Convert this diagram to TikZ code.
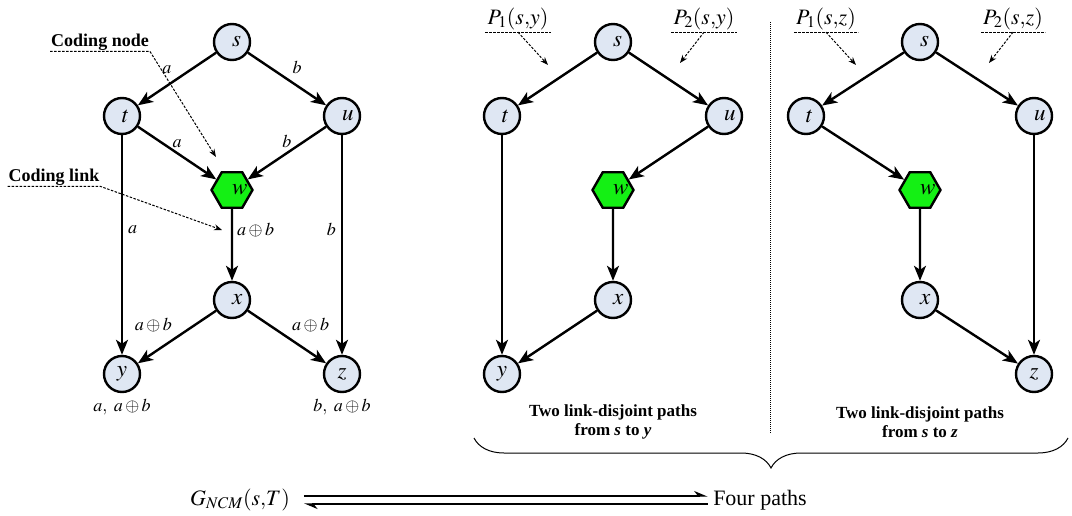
\documentclass[tikz,border=0pt]{standalone}
\usepackage{mathptmx}
\usepackage{fontspec}
\setmainfont{Liberation Serif}
\usepackage{tikz}
\usetikzlibrary{arrows.meta,positioning,shapes.geometric,decorations.pathreplacing}
\definecolor{nodefill}{HTML}{DFE7F3}
\definecolor{codegreen}{HTML}{14F014}

\begin{document}
\begin{tikzpicture}[x=1pt,y=-1pt,
  vtx/.style={circle,draw,line width=2.4pt,fill=nodefill,minimum size=36pt,inner sep=0pt,font=\fontsize{23}{25}\selectfont},
  hexa/.style={regular polygon,regular polygon sides=6,draw,line width=2.4pt,fill=codegreen,minimum size=41pt,inner sep=0pt,font=\fontsize{23}{25}\selectfont},
  arr/.style={-{Stealth[length=15pt,width=12pt,inset=4pt]},line width=2.4pt},
  lbl/.style={font=\fontsize{18}{20}\selectfont,inner sep=1pt},
  tag/.style={font=\fontsize{18}{20}\selectfont\bfseries,inner sep=1pt},
  ptag/.style={font=\fontsize{22}{24}\selectfont,inner sep=2pt},
  uline/.style={dash pattern=on 2.5pt off 1.5pt,line width=1pt},
  note/.style={uline,-{Stealth[length=8pt,width=6pt]}},
  capt/.style={font=\fontsize{17}{19}\selectfont\bfseries,align=center},
  harp/.style={-{Stealth[harpoon,length=12pt,width=10pt]},line width=1.3pt}]
\useasboundingbox (0,0) rectangle (1072,516);

% the three graphs: left (l), paths to y (m), paths to z (r)
\foreach \gr/\ox/\wd in {l/0/110,m/381/111,r/688/114}{
  \node[vtx] (\gr s) at ({232+\ox},42) {$s$};
  \node[vtx] (\gr t) at ({232+\ox-\wd},116) {$t$};
  \node[vtx] (\gr u) at ({232+\ox+\wd},116) {$u$};
  \node[hexa] (\gr w) at ({232+\ox},190) {$w$};
  \node[vtx] (\gr x) at ({232+\ox},300) {$x$};
}
\node[vtx] (ly) at (122,374) {$y$};
\node[vtx] (lz) at (342,374) {$z$};
\node[vtx] (my) at (502,374) {$y$};
\node[vtx] (rz) at (1034,374) {$z$};

% network coding graph
\draw[arr] (ls) -- node[lbl,above left=5pt] {$a$} (lt);
\draw[arr] (ls) -- node[lbl,above right=5pt] {$b$} (lu);
\draw[arr] (lt) -- node[lbl,above=3pt] {$a$} (lw);
\draw[arr] (lu) -- node[lbl,above=3pt] {$b$} (lw);
\draw[arr] (lt) -- node[lbl,pos=0.43,right=4pt] {$a$} (ly);
\draw[arr] (lu) -- node[lbl,pos=0.43,left=4pt] {$b$} (lz);
\draw[arr] (lw) -- node[lbl,pos=0.3,right=3pt] {$a\oplus b$} (lx);
\draw[arr] (lx) -- node[lbl,above left=4pt] {$a\oplus b$} (ly);
\draw[arr] (lx) -- node[lbl,above right=4pt] {$a\oplus b$} (lz);
\node[lbl,below=5pt of ly] (lyout) {$a,\ a\oplus b$};
\node[lbl,below=5pt of lz] (lzout) {$b,\ a\oplus b$};

\node[tag] (cnode) at (100,42) {Coding node};
\coordinate (cnodeend) at (216,157);
\draw[note] (cnode.south west) -- (cnode.south east) -- (cnodeend);
\node[tag] (clink) at (54,177) {Coding link};
\coordinate (clinkend) at (222,230);
\draw[note] (clink.south west) -- (clink.south east) -- (clinkend);

% link-disjoint paths
\foreach \p/\q in {ms/mt,ms/mu,mt/my,mu/mw,mw/mx,mx/my,
                   rs/rt,rs/ru,rt/rw,rw/rx,rx/rz,ru/rz}
  \draw[arr] (\p) -- (\q);

\node[ptag] (pmone) at (518,19) {$P_1(s{,}y)$};
\node[ptag] (pmtwo) at (704,19) {$P_2(s{,}y)$};
\node[ptag] (prone) at (826,19) {$P_1(s{,}z)$};
\node[ptag] (prtwo) at (1013,19) {$P_2(s{,}z)$};
\coordinate (pmoneend) at (548,65);
\coordinate (pmtwoend) at (680,63);
\coordinate (proneend) at (856,65);
\coordinate (prtwoend) at (989,63);
\foreach \p in {pmone,pmtwo,prone,prtwo}{
  \draw[uline] (\p.south west) -- (\p.south east);
  \draw[note] (\p.south) -- (\p end);
}

\draw[densely dotted,line width=1pt] (770,22) -- (770,433);

\node[capt] (mcapt) at (613,422) {Two link-disjoint paths\\from \textit{s} to \textit{y}};
\node[capt] (rcapt) at (920,422) {Two link-disjoint paths\\from \textit{s} to \textit{z}};

\coordinate (brl) at (474,438);
\coordinate (brr) at (1068,438);
\draw[decorate,decoration={brace,mirror,amplitude=30pt},line width=1pt] (brl) -- (brr);

% equivalence
\node[ptag] (gncm) at (240,500) {$G_{NCM}(s{,}T)$};
\node[font=\fontsize{22}{24}\selectfont] (four) at (760,500) {Four paths};
\draw[harp] ([xshift=12pt,yshift=4pt]gncm.east) -- ([xshift=-2pt,yshift=4pt]four.west);
\draw[harp] ([xshift=-2pt,yshift=-4pt]four.west) -- ([xshift=12pt,yshift=-4pt]gncm.east);
\end{tikzpicture}
\end{document}
